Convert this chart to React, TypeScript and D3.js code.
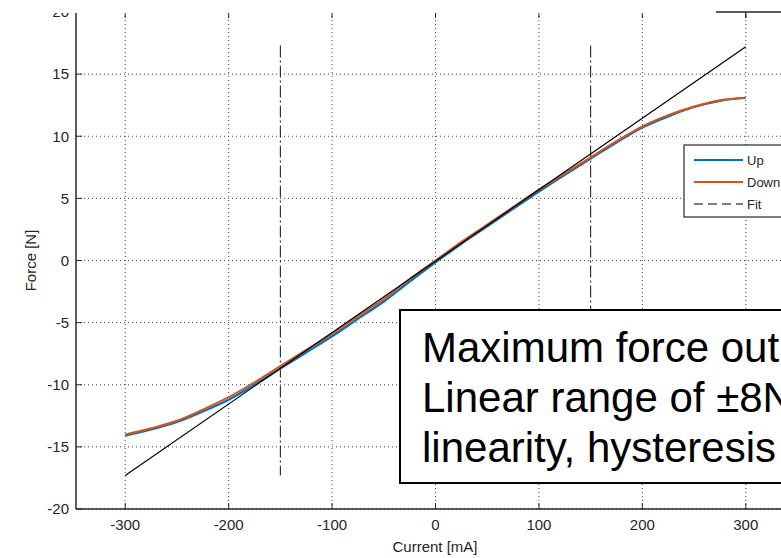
import React from 'react';
import * as d3 from 'd3';

// current in mA, force in N
const current = [-300, -275, -250, -225, -200, -175, -150, -125, -100, -75, -50, -25, 0,
  25, 50, 75, 100, 125, 150, 175, 200, 225, 250, 275, 300];
const forceUp = [-14.1, -13.6, -13.0, -12.15, -11.2, -10.0, -8.7, -7.4, -6.1, -4.7, -3.3, -1.7, -0.15,
  1.35, 2.75, 4.15, 5.55, 6.9, 8.2, 9.5, 10.7, 11.6, 12.35, 12.85, 13.1];
const forceDown = [-14.0, -13.5, -12.9, -12.0, -11.0, -9.8, -8.5, -7.2, -5.9, -4.5, -3.1, -1.5, 0.0,
  1.5, 2.9, 4.3, 5.7, 7.0, 8.3, 9.6, 10.8, 11.7, 12.4, 12.9, 13.1];
const fitCurrent = [-300, 300];
const fitForce = [-17.3, 17.2];
const limitCurrent = [-150, 150];
const limitForce = [-17.3, 17.3];
const xTicks = [-300, -200, -100, 0, 100, 200, 300];
const yTicks = [-20, -15, -10, -5, 0, 5, 10, 15, 20];
const legendLabels = ['Up', 'Down', 'Fit'];
const noteLines = ['Maximum force out', 'Linear range of \u00b18N', 'linearity, hysteresis'];

const W = 781;
const H = 558;
const axisColor = '#262626';
const font = '"Liberation Sans", Arial, sans-serif';

export default function App() {
  const x = d3.scaleLinear().domain([-350, 350]).range([73.5, 797.5]);
  const y = d3.scaleLinear().domain([-20, 20]).range([509, 12]);
  const left = 76;
  const bottom = y(-20);
  const top = y(20);

  const line = d3
    .line<[number, number]>()
    .x(d => x(d[0]))
    .y(d => y(d[1]))
    .curve(d3.curveMonotoneX);

  const upPts = current.map((c, i) => [c, forceUp[i]] as [number, number]);
  const downPts = current.map((c, i) => [c, forceDown[i]] as [number, number]);
  const fitPts = fitCurrent.map((c, i) => [c, fitForce[i]] as [number, number]);

  const legendColors = ['#0072BD', '#D95319', '#000'];

  return (
    <svg width={W} height={H} style={{ position: 'absolute', left: 0, top: 0, background: '#fff' }}
      fontFamily={font}>
      <rect x={0} y={0} width={W} height={H} fill="#fff" />
      {/* grid */}
      {xTicks.map(t => (
        <line key={'gx' + t} x1={x(t)} x2={x(t)} y1={top} y2={bottom}
          stroke="#444" strokeWidth={1} strokeDasharray="1 3" />
      ))}
      {yTicks.map(t => (
        <line key={'gy' + t} x1={left} x2={W} y1={y(t)} y2={y(t)}
          stroke="#444" strokeWidth={1} strokeDasharray="1 3" />
      ))}
      {/* dash-dot limits */}
      {limitCurrent.map(c => (
        <line key={'lim' + c} x1={x(c)} x2={x(c)} y1={y(limitForce[1])} y2={y(limitForce[0])}
          stroke="#111" strokeWidth={1} strokeDasharray="12 3 2 3" />
      ))}
      {/* curves */}
      <path d={line(upPts) || ''} fill="none" stroke="#0072BD" strokeWidth={2.2} />
      <path d={line(downPts) || ''} fill="none" stroke="#D95319" strokeWidth={2} />
      <path d={line(fitPts) || ''} fill="none" stroke="#000" strokeWidth={1.2} />

      {/* axes */}
      <line x1={left} x2={left} y1={top} y2={bottom} stroke={axisColor} strokeWidth={1.5} />
      <line x1={left} x2={W} y1={bottom} y2={bottom} stroke={axisColor} strokeWidth={1.5} />
      {yTicks.map(t => (
        <g key={'yt' + t}>
          <line x1={left} x2={left + 6} y1={y(t)} y2={y(t)} stroke={axisColor} />
          <text x={left - 7} y={y(t)} dy="0.35em" textAnchor="end" fontSize={15} fill={axisColor}>{t}</text>
        </g>
      ))}
      {xTicks.map(t => (
        <g key={'xt' + t}>
          <line x1={x(t)} x2={x(t)} y1={bottom} y2={bottom - 6} stroke={axisColor} />
          <line x1={x(t)} x2={x(t)} y1={top} y2={top + 6} stroke={axisColor} />
          <text x={x(t)} y={bottom + 21} textAnchor="middle" fontSize={15} fill={axisColor}>{t}</text>
        </g>
      ))}
      {/* white band at top of the cropped figure */}
      <rect x={0} y={0} width={W} height={top + 1} fill="#fff" />
      <line x1={716} x2={W} y1={top} y2={top} stroke={axisColor} strokeWidth={1.5} />
      <line x1={x(300)} x2={x(300)} y1={top} y2={top + 6} stroke={axisColor} />

      <text x={435} y={552} textAnchor="middle" fontSize={15} fill={axisColor}>Current [mA]</text>
      <text transform={`translate(36, ${y(0)}) rotate(-90)`} textAnchor="middle" fontSize={15}
        fill={axisColor}>Force [N]</text>

      {/* legend */}
      <rect x={684} y={145} width={120} height={72} fill="#fff" stroke={axisColor} strokeWidth={1.2} />
      {legendLabels.map((l, i) => (
        <g key={l} transform={`translate(0, ${160 + i * 22})`}>
          <line x1={694} x2={743} y1={0} y2={0} stroke={legendColors[i]}
            strokeWidth={i === 2 ? 1.2 : 2} strokeDasharray={i === 2 ? '9 5' : undefined} />
          <text x={747} y={0} dy="0.35em" fontSize={13} fill={axisColor}>{l}</text>
        </g>
      ))}

      {/* annotation box */}
      <rect x={400} y={310} width={420} height={173} fill="#fff" stroke="#000" strokeWidth={2} />
      {noteLines.map((t, i) => (
        <text key={i} x={422} y={362 + i * 50} fontSize={42} fill="#000">{t}</text>
      ))}
    </svg>
  );
}
